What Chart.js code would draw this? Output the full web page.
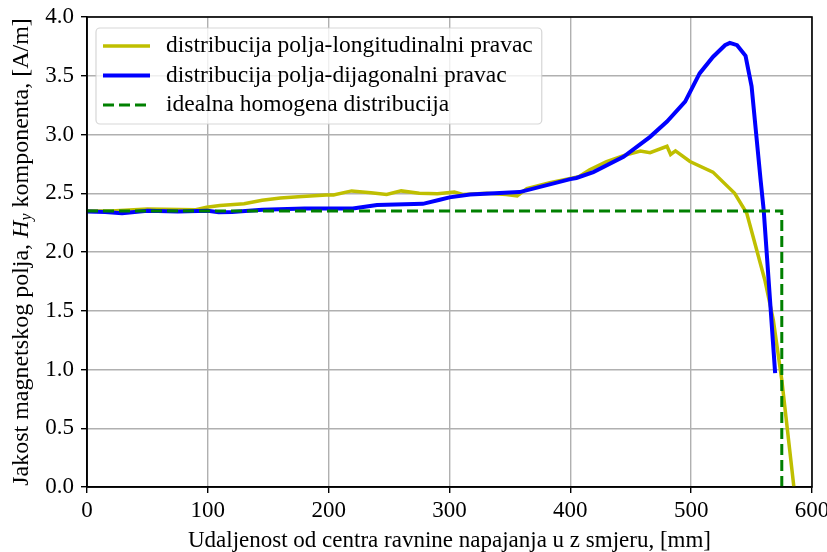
<!DOCTYPE html>
<html>
<head>
<meta charset="utf-8">
<script src="https://cdn.jsdelivr.net/npm/chart.js@4.4.0/dist/chart.umd.min.js"></script>
<style>
  html, body { margin: 0; padding: 0; background: #fff; }
  #wrap { width: 827px; height: 552px; }
</style>
</head>
<body>
<div id="wrap"><canvas id="myChart" width="827" height="552"></canvas></div>
<script>
// longitudinal direction (yellow)
const longX = [0, 20, 50, 90, 99, 110, 130, 145, 160, 175, 198, 204, 219, 235, 248, 260, 275, 290, 304, 311, 331, 347, 356, 364, 383, 400, 407, 416, 430, 444, 458, 466, 480, 483, 487, 499, 518, 536, 546, 561, 568, 575, 585];
const longY = [2.35, 2.35, 2.365, 2.36, 2.38, 2.395, 2.41, 2.44, 2.46, 2.47, 2.485, 2.485, 2.52, 2.505, 2.49, 2.52, 2.50, 2.495, 2.51, 2.49, 2.50, 2.49, 2.477, 2.54, 2.59, 2.625, 2.64, 2.70, 2.77, 2.82, 2.86, 2.845, 2.90, 2.83, 2.86, 2.77, 2.68, 2.50, 2.33, 1.76, 1.42, 0.91, 0.0];

// diagonal direction (blue)
const diagX = [0, 15, 29, 50, 75, 100, 109, 120, 145, 180, 220, 240, 278, 292, 300, 317, 358, 400, 405, 419, 444, 466, 480, 495, 507, 518, 528, 532, 538, 545, 550, 557.5, 560, 569.5];
const diagY = [2.345, 2.34, 2.33, 2.35, 2.345, 2.35, 2.338, 2.34, 2.36, 2.37, 2.37, 2.40, 2.41, 2.445, 2.465, 2.49, 2.51, 2.62, 2.63, 2.68, 2.81, 2.98, 3.11, 3.28, 3.52, 3.66, 3.76, 3.78, 3.76, 3.67, 3.41, 2.61, 2.36, 0.97];

// ideal homogeneous distribution (green dashed)
const idealX = [0, 575, 575];
const idealY = [2.35, 2.35, 0];

const labels = [
    "distribucija polja-longitudinalni pravac",
    "distribucija polja-dijagonalni pravac",
    "idealna homogena distribucija",
];

const FONT = "'Liberation Serif', 'DejaVu Serif', serif";
const FS = 23;

function toPoints(xs, ys) {
    return xs.map((x, i) => ({ x: x, y: ys[i] }));
}

// frame around plot (top/right spines)
const framePlugin = {
    id: "frame",
    afterDatasetsDraw(chart) {
        const { ctx, chartArea: a } = chart;
        ctx.save();
        ctx.strokeStyle = "#000";
        ctx.lineWidth = 1.6;
        ctx.strokeRect(a.left, a.top, a.right - a.left, a.bottom - a.top);
        ctx.restore();
    },
};

// matplotlib style legend box in upper left
const legendPlugin = {
    id: "mplLegend",
    afterDraw(chart) {
        const { ctx, chartArea: a } = chart;
        ctx.save();
        ctx.font = "23.5px " + FONT;
        let maxW = 0;
        labels.forEach((t) => (maxW = Math.max(maxW, ctx.measureText(t).width)));
        const left = a.left + 9, top = a.top + 11;
        const w = 70 + maxW + 9, h = 96;
        ctx.globalAlpha = 0.8;
        ctx.fillStyle = "#fff";
        ctx.strokeStyle = "#cccccc";
        ctx.lineWidth = 1.2;
        ctx.beginPath();
        ctx.roundRect(left, top, w, h, 4);
        ctx.fill();
        ctx.stroke();
        ctx.globalAlpha = 1;
        chart.data.datasets.forEach((ds, i) => {
            const y = top + 18 + i * 29.5;
            ctx.strokeStyle = ds.borderColor;
            ctx.lineWidth = ds.borderWidth;
            ctx.setLineDash(ds.borderDash || []);
            ctx.beginPath();
            ctx.moveTo(left + 7, y);
            ctx.lineTo(left + 54, y);
            ctx.stroke();
            ctx.setLineDash([]);
            ctx.fillStyle = "#000";
            ctx.textBaseline = "middle";
            ctx.fillText(labels[i], left + 70, y);
        });
        ctx.restore();
    },
};

// y axis title with italic H_y
const yTitlePlugin = {
    id: "yTitle",
    afterDraw(chart) {
        const { ctx, chartArea: a } = chart;
        const parts = [
            { t: "Jakost magnetskog polja, ", f: "24px " + FONT, dy: 0 },
            { t: "H", f: "italic 24px " + FONT, dy: 0 },
            { t: "y", f: "italic 16px " + FONT, dy: 5 },
            { t: " komponenta, [A/m]", f: "24px " + FONT, dy: 0 },
        ];
        ctx.save();
        let total = 0;
        parts.forEach((p) => { ctx.font = p.f; p.w = ctx.measureText(p.t).width; total += p.w; });
        ctx.translate(22, (a.top + a.bottom) / 2);
        ctx.rotate(-Math.PI / 2);
        ctx.fillStyle = "#000";
        ctx.textBaseline = "middle";
        let x = -total / 2;
        parts.forEach((p) => { ctx.font = p.f; ctx.fillText(p.t, x, p.dy); x += p.w; });
        ctx.restore();
    },
};

var ctx = document.getElementById("myChart").getContext("2d");
var myChart = new Chart(ctx, {
    type: "scatter",
    data: {
        datasets: [
            {
                label: labels[0],
                data: toPoints(longX, longY),
                showLine: true,
                borderColor: "#bfbf00",
                borderWidth: 3.5,
                pointRadius: 0,
                order: 2,
            },
            {
                label: labels[1],
                data: toPoints(diagX, diagY),
                showLine: true,
                borderColor: "#0000ff",
                borderWidth: 4,
                pointRadius: 0,
                order: 1,
            },
            {
                label: labels[2],
                data: toPoints(idealX, idealY),
                showLine: true,
                borderColor: "#008000",
                borderWidth: 3,
                borderDash: [11, 5],
                pointRadius: 0,
                order: 0,
            },
        ],
    },
    options: {
        responsive: false,
        animation: false,
        layout: { padding: { left: 0, top: 17, right: 15, bottom: 0 } },
        plugins: {
            legend: { display: false },
            tooltip: { enabled: false },
        },
        scales: {
            x: {
                type: "linear",
                min: 0,
                max: 600,
                afterFit: (s) => { s.height = 65; s.paddingRight = 0; s.paddingLeft = 0; },
                ticks: {
                    stepSize: 100,
                    color: "#000",
                    font: { family: FONT, size: FS },
                    padding: 4,
                    maxRotation: 0,
                },
                grid: { color: "#b0b0b0", lineWidth: 1.4, tickColor: "#000", tickLength: 6 },
                border: { color: "#000", width: 1.6 },
                title: {
                    display: true,
                    text: "Udaljenost od centra ravnine napajanja u z smjeru, [mm]",
                    color: "#000",
                    font: { family: FONT, size: FS },
                    padding: { top: 0, bottom: -3 },
                },
            },
            y: {
                min: 0,
                max: 4,
                afterFit: (s) => { s.width = 87; s.paddingTop = 0; s.paddingBottom = 0; },
                ticks: {
                    stepSize: 0.5,
                    color: "#000",
                    font: { family: FONT, size: FS },
                    padding: 7,
                    callback: (v) => v.toFixed(1),
                },
                grid: { color: "#b0b0b0", lineWidth: 1.4, tickColor: "#000", tickLength: 6 },
                border: { color: "#000", width: 1.6 },
            },
        },
    },
    plugins: [framePlugin, legendPlugin, yTitlePlugin],
});
</script>
</body>
</html>
